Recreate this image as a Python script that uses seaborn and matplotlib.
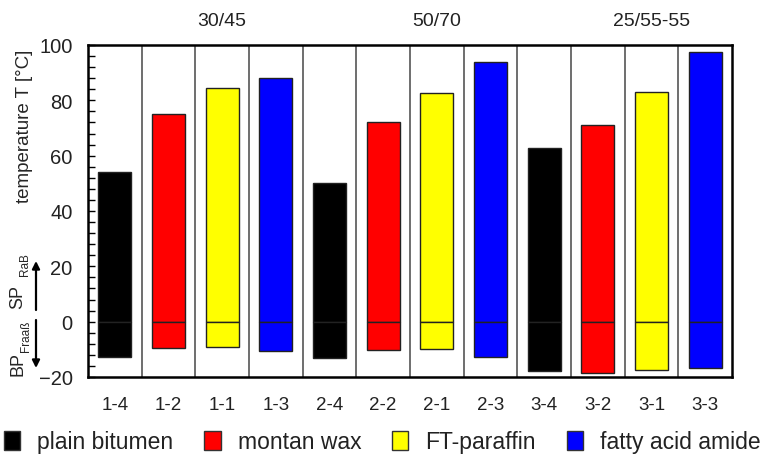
import numpy as np
import pandas as pd
import matplotlib
matplotlib.use('Agg')
import matplotlib.pyplot as plt
from matplotlib.patches import Patch
from matplotlib.ticker import MultipleLocator
import seaborn as sns

sns.set_theme(style='white')
plt.rcParams['font.family'] = ['Liberation Sans', 'DejaVu Sans']

# data
samples = ['1-4', '1-2', '1-1', '1-3', '2-4', '2-2', '2-1', '2-3',
           '3-4', '3-2', '3-1', '3-3']
materials = ['plain bitumen', 'montan wax', 'FT-paraffin', 'fatty acid amide'] * 3
sp_rab = [54.2, 75.2, 84.6, 88.2, 50.3, 72.0, 82.6, 94.0, 62.7, 71.1, 83.0, 97.3]
bp_fraass = [-12.6, -9.4, -9.2, -10.6, -13.0, -10.1, -10.0, -12.9,
             -17.7, -18.7, -17.3, -16.6]
binders = ['30/45', '50/70', '25/55-55']
binder_label_pos = [2, 6, 10]
legend_names = ['plain bitumen', 'montan wax', 'FT-paraffin', 'fatty acid amide']
colors = {'plain bitumen': '#000000', 'montan wax': '#ff0000',
          'FT-paraffin': '#ffff00', 'fatty acid amide': '#0000ff'}

df = pd.DataFrame({'sample': samples, 'material': materials,
                   'SP': sp_rab, 'BP': bp_fraass})

W, H = 765, 460
fig = plt.figure(figsize=(W / 100, H / 100), dpi=100)
ax = fig.add_axes([88 / W, 1 - 378 / H, (732 - 88) / W, (378 - 46) / H])

# upper part (softening point) and lower part (breaking point)
for col in ['SP', 'BP']:
    sns.barplot(data=df, x='sample', y=col, hue='material', order=samples,
                hue_order=legend_names, palette=colors, dodge=False,
                saturation=1, width=0.61, edgecolor='#222222', linewidth=1.0,
                legend=False, ax=ax, zorder=3)

for b in np.arange(0.5, 11, 1):
    ax.axvline(b, color='#555555', lw=1.2, zorder=1)

ax.set_xlim(-0.5, 11.5)
ax.set_ylim(-20, 100)
ax.set_xlabel('')
ax.set_ylabel('')
ax.yaxis.set_major_locator(MultipleLocator(20))
ax.yaxis.set_minor_locator(MultipleLocator(4))
ax.tick_params(axis='y', which='both', direction='in', left=True, length=5,
               width=1, color='black', labelsize=14.5, pad=11)
ax.tick_params(axis='x', length=0, pad=14, labelsize=13.5)
for lab in ax.get_xticklabels() + ax.get_yticklabels():
    lab.set_color('#222222')
for s in ax.spines.values():
    s.set_color('black')
    s.set_linewidth(1.8)

# binder grades on top
for name, pos in zip(binders, binder_label_pos):
    ax.text(pos, 1.075, name, transform=ax.get_xaxis_transform(),
            ha='center', va='center', fontsize=14, color='#222222')

# y axis label and SP / BP markers
fig.text(25 / W, 1 - 126 / H, 'temperature T [°C]', rotation=90,
         ha='center', va='center', fontsize=13.5)
fig.text(18 / W, 1 - 297 / H, 'SP', rotation=90, ha='center', va='center',
         fontsize=13)
fig.text(25 / W, 1 - 265 / H, 'RaB', rotation=90, ha='center', va='center',
         fontsize=8.5)
fig.text(18 / W, 1 - 364 / H, 'BP', rotation=90, ha='center', va='center',
         fontsize=13)
fig.text(26 / W, 1 - 336 / H, 'Fraaß', rotation=90, ha='center', va='center',
         fontsize=8.5)
ax.annotate('', xy=(36 / W, 1 - 262 / H), xytext=(36 / W, 1 - 311 / H),
            xycoords='figure fraction', textcoords='figure fraction',
            arrowprops=dict(arrowstyle='-|>', color='black', lw=1.6,
                            mutation_scale=11, shrinkA=0, shrinkB=0))
ax.annotate('', xy=(36 / W, 1 - 369 / H), xytext=(36 / W, 1 - 321 / H),
            xycoords='figure fraction', textcoords='figure fraction',
            arrowprops=dict(arrowstyle='-|>', color='black', lw=1.6,
                            mutation_scale=11, shrinkA=0, shrinkB=0))

handles = [Patch(facecolor=colors[n], edgecolor='#333333', lw=1.0, label=n)
           for n in legend_names]
fig.legend(handles=handles, loc='center', bbox_to_anchor=(0.5, 1 - 443 / H),
           ncol=4, frameon=False, fontsize=16.5, handlelength=0.7,
           handleheight=0.85, handletextpad=0.75, columnspacing=1.35,
           labelcolor='#222222', borderaxespad=0, borderpad=0)

fig.savefig('out.png', dpi=100)
